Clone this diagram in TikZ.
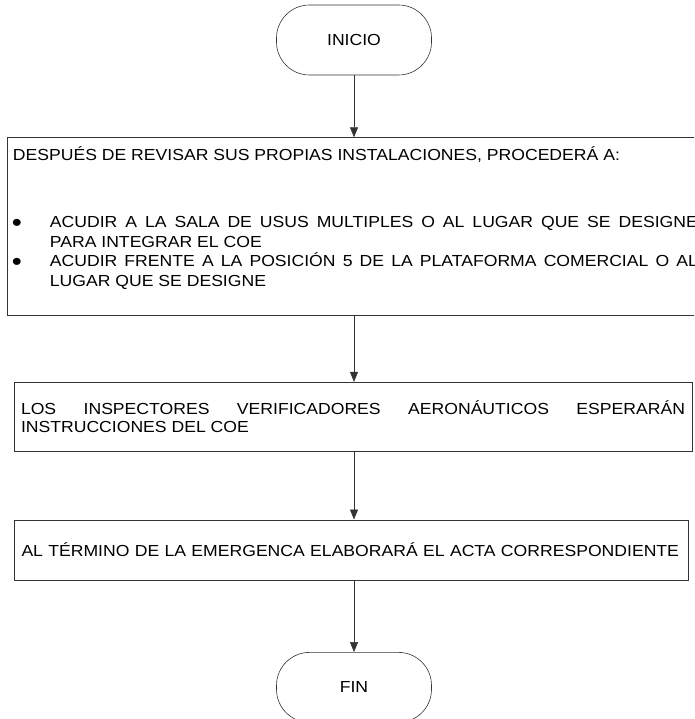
\documentclass[tikz,border=0pt]{standalone}
\usepackage{fontspec}
\setmainfont{Liberation Sans}[FakeStretch=1.1]
\usetikzlibrary{arrows.meta,positioning}
\tikzset{
  term/.style   ={draw=black!80,rounded corners=33pt,minimum width=155pt,minimum height=70pt,
                  line width=0.6pt,font=\fontsize{16}{18}\selectfont},
  stepbox/.style={draw=black!80,rectangle,line width=0.6pt,inner ysep=0pt,inner xsep=7pt,
                  font=\fontsize{16}{18}\selectfont},
  flow/.style   ={-{Triangle[length=10pt,width=8pt]},line width=0.6pt,black!80},
}
\newcommand{\bulitem}{\hangindent=37pt\hangafter=0\noindent\llap{\raisebox{-4pt}{\fontsize{26}{18}\selectfont\textbullet}\hspace{28pt}}}
\begin{document}
\begin{tikzpicture}[node distance=60pt]
\clip (0,0) rectangle (694pt,-719pt);
\node[term] (inicio) at (354pt,-40pt) {INICIO};
% caja de instrucciones (sale por la derecha)
\node[stepbox,minimum width=703pt,minimum height=178pt,below=62pt of inicio,xshift=4.5pt] (revisar) {};
\node[anchor=north west,text width=685pt,align=justify,inner sep=0pt,
      font=\fontsize{16}{20}\selectfont] (revisartxt) at ([shift={(6pt,-9pt)}]revisar.north west)
  {DESPUÉS DE REVISAR SUS PROPIAS INSTALACIONES, PROCEDERÁ A:\par\vspace{47pt}
   \bulitem ACUDIR A LA SALA DE USUS MULTIPLES O AL LUGAR QUE SE DESIGNE\linebreak PARA INTEGRAR EL COE\par\vspace{-1pt}
   \bulitem ACUDIR FRENTE A LA POSICIÓN 5 DE LA PLATAFORMA COMERCIAL O AL\linebreak LUGAR QUE SE DESIGNE\par};
\node[stepbox,text width=664pt,align=justify,minimum height=69pt,below=66pt of revisar,xshift=-5.5pt] (espera)
  {LOS INSPECTORES VERIFICADORES AERONÁUTICOS ESPERARÁN\linebreak INSTRUCCIONES DEL COE};
\node[stepbox,text width=660pt,align=left,minimum height=60pt,below=68pt of espera,xshift=-1.5pt] (acta)
  {AL TÉRMINO DE LA EMERGENCA ELABORARÁ EL ACTA CORRESPONDIENTE};
\node[term,below=72pt of acta,xshift=2.5pt] (fin) {FIN};
\draw[flow] (inicio.south) -- (revisar.north -| inicio);
\draw[flow] (revisar.south -| inicio) -- (espera.north -| inicio);
\draw[flow] (espera.south -| inicio) -- (acta.north -| inicio);
\draw[flow] (acta.south -| inicio) -- (fin.north);
\end{tikzpicture}
\end{document}
